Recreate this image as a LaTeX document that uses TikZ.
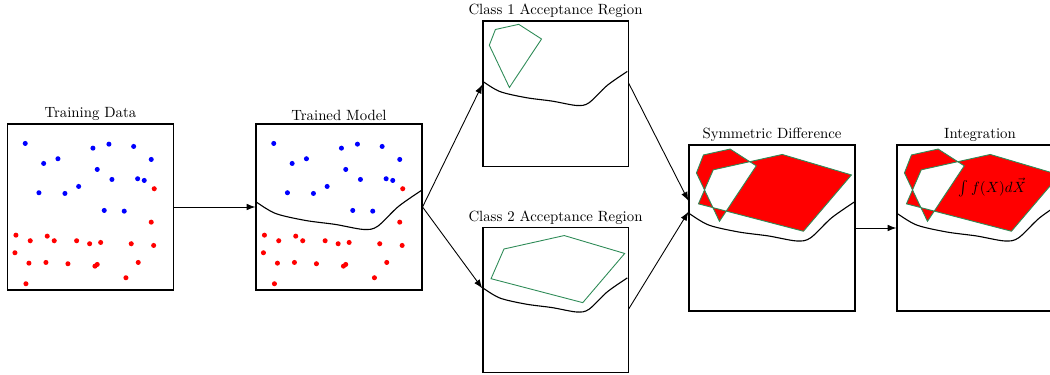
\documentclass[tikz,border=0pt]{standalone}
\usepackage{tikz}
\usepackage{xcolor}
\usetikzlibrary{positioning,arrows.meta}

\definecolor{regionedge}{RGB}{46,139,87}

\tikzset{
  panel/.style={draw, thick, minimum width=112pt, minimum height=112pt, inner sep=0pt},
  smallpanel/.style={panel, minimum width=98pt, minimum height=98pt},
  title/.style={inner sep=1.5pt},
  flow/.style={-{Latex[length=6pt,width=4.5pt]}, semithick},
  boundary/.style={line width=0.75pt},
  region/.style={draw=regionedge, semithick},
}

% sample points, in pixels from the box corner
\newcommand{\trainingpoints}{%
  \foreach \x/\y in {18.3/20, 36.7/40, 51/35.3, 86/24.7, 102/20.7, 126.7/23, 144.3/36,
      90.3/46, 105/56, 130.7/55.3, 137.3/57, 32/69.3, 58/70, 71.7/63, 97.3/87, 117.3/87.7}
    \fill[blue] (\x,\y) circle (1.7pt);
  \foreach \x/\y in {147.3/65.3, 144.3/98.7, 9/111.7, 23.3/117.3, 40.3/112.7, 47.3/117.3,
      69.7/117.3, 82.7/120.3, 93.7/119, 124.3/120.3, 146.7/122, 8/129.3, 22/139.7, 39/139,
      61/140.3, 88/142.7, 90.3/141, 131.3/139, 19/160.3, 119/154.3}
    \fill[red] (\x,\y) circle (1.7pt);
}

% decision boundary of the model
\newcommand{\drawboundary}{%
  \draw[boundary] plot[smooth] coordinates {(0,78) (20,90) (50,97) (80,101) (108,106) (122,103) (143,83) (166,67)};
}

% acceptance regions
\newcommand{\classonepoly}{%
  \draw[region] (8,28.5) -- (15,10.5) -- (41.7,4.6) -- (67.8,21.4) -- (31,76.9) -- cycle;
}
\newcommand{\classtwopoly}{%
  \draw[region] (10,59.4) -- (24.8,25.4) -- (93.8,10) -- (163,30.5) -- (115,86.8) -- cycle;
}
\newcommand{\symdiffregion}{%
  \fill[red, even odd rule] (8,28.5) -- (15,10.5) -- (41.7,4.6) -- (67.8,21.4) -- (31,76.9) -- cycle
    (10,59.4) -- (24.8,25.4) -- (93.8,10) -- (163,30.5) -- (115,86.8) -- cycle;
  \classonepoly
  \classtwopoly
}

\begin{document}
\begin{tikzpicture}[x=0.675pt, y=-0.675pt]
  \useasboundingbox (0,0) rectangle (1050,375);

  % Panels
  \node[panel] (train) at (90.5,207) {};
  \node[panel] (model) at (339,207) {};
  \node[smallpanel] (classone) at (555.5,93.5) {};
  \node[smallpanel] (classtwo) at (555.5,300) {};
  \node[panel] (symdiff) at (772,228) {};
  \node[panel] (integ) at (980,228) {};

  % Titles
  \node[title, above=0pt of train] (traintitle) {Training Data};
  \node[title, above=0pt of model] (modeltitle) {Trained Model};
  \node[title, above=0pt of classone] (classonetitle) {Class 1 Acceptance Region};
  \node[title, above=0pt of classtwo] (classtwotitle) {Class 2 Acceptance Region};
  \node[title, above=0pt of symdiff] (symdifftitle) {Symmetric Difference};
  \node[title, above=0pt of integ] (integtitle) {Integration};

  % Training data
  \begin{scope}[shift={(train.north west)}]
    \trainingpoints
  \end{scope}

  % Trained model
  \begin{scope}[shift={(model.north west)}]
    \trainingpoints
    \drawboundary
  \end{scope}

  % Class 1
  \begin{scope}[shift={(classone.north west)}, scale=0.8735]
    \begin{scope}[shift={(0,-8.5)}]
      \drawboundary
    \end{scope}
    \classonepoly
  \end{scope}

  % Class 2
  \begin{scope}[shift={(classtwo.north west)}, scale=0.8735]
    \begin{scope}[shift={(0,-8.5)}]
      \drawboundary
    \end{scope}
    \classtwopoly
  \end{scope}

  % Symmetric difference
  \begin{scope}[shift={(symdiff.north west)}]
    \symdiffregion
    \begin{scope}[shift={(0,-9.5)}]
      \drawboundary
    \end{scope}
  \end{scope}

  % Integration
  \begin{scope}[shift={(integ.north west)}]
    \symdiffregion
    \begin{scope}[shift={(0,-9.5)}]
      \drawboundary
    \end{scope}
    \node (integral) at (96,43) {$\int f(X) d\vec{X}$};
  \end{scope}

  % Arrows
  \draw[flow] (train) -- (model);
  \draw[flow] (model.east) -- (classone.173);
  \draw[flow] (model.east) -- (classtwo.171);
  \draw[flow] (classone.8) -- (symdiff.162);
  \draw[flow] (classtwo.-7) -- (symdiff.169);
  \draw[flow] (symdiff) -- (integ);

\end{tikzpicture}
\end{document}
